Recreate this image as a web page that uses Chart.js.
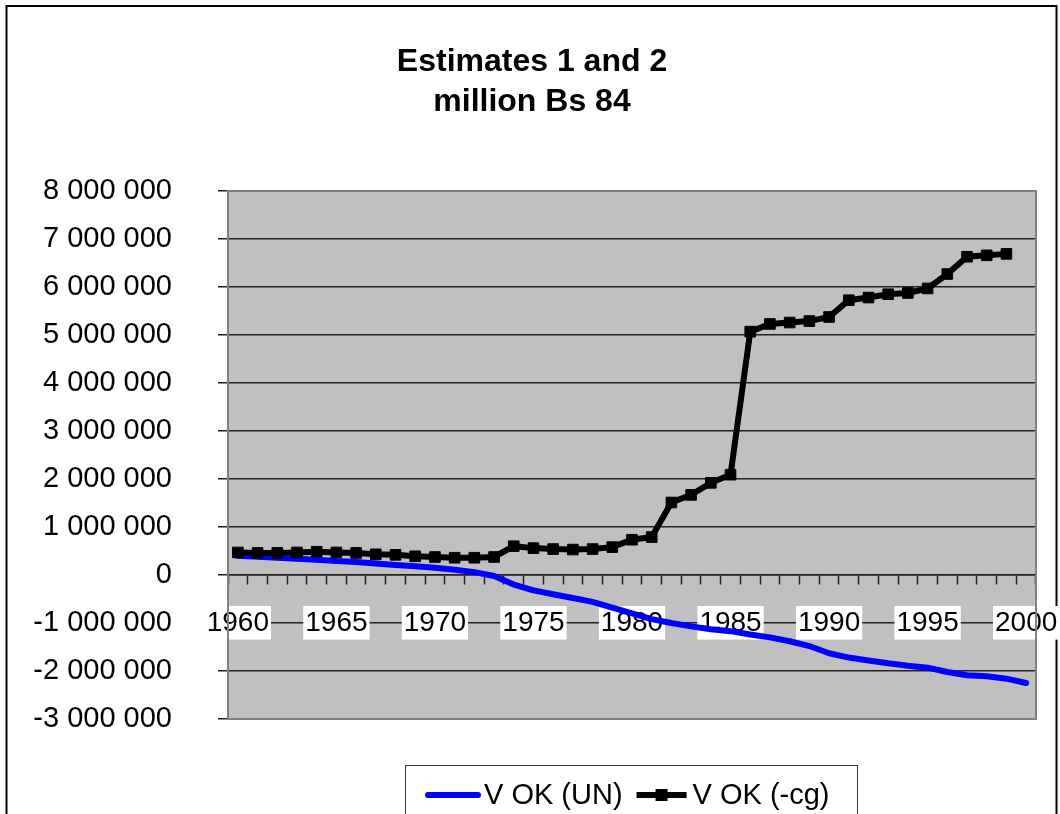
<!DOCTYPE html>
<html>
<head>
<meta charset="utf-8">
<script src="https://cdn.jsdelivr.net/npm/chart.js@4/dist/chart.umd.min.js"></script>
<style>
  html, body { margin: 0; padding: 0; background: #fff; }
  #chart { display: block; }
</style>
</head>
<body>
<canvas id="chart" width="1060" height="814"></canvas>
<script>
// years on the category axis
const years = [];
for (let y = 1960; y <= 2000; y++) years.push(String(y));

// only these years get a label
const yearLabels = ['1960', '1965', '1970', '1975', '1980', '1985', '1990', '1995', '2000'];

// V OK (UN) - blue
const vOkUN = [
  400000, 380000, 360000, 340000, 320000, 290000, 270000, 240000, 210000, 180000,
  150000, 110000, 60000, -20000, -200000, -320000, -400000, -480000, -560000, -680000,
  -800000, -920000, -1000000, -1070000, -1130000, -1170000, -1240000, -1300000, -1380000, -1480000,
  -1630000, -1720000, -1780000, -1840000, -1890000, -1930000, -2020000, -2090000, -2110000, -2160000,
  -2250000
];

// V OK (-cg) - black with square markers
const vOkCG = [
  470000, 460000, 460000, 470000, 485000, 470000, 460000, 430000, 420000, 390000,
  375000, 360000, 360000, 375000, 600000, 560000, 540000, 530000, 540000, 580000,
  735000, 790000, 1510000, 1670000, 1920000, 2090000, 5070000, 5230000, 5260000, 5290000,
  5375000, 5725000, 5780000, 5850000, 5875000, 5970000, 6270000, 6630000, 6660000, 6690000,
  null
];

const yMin = -3000000;
const yMax = 8000000;
const yStep = 1000000;

const titleLines = ['Estimates 1 and 2', 'million Bs 84'];
const seriesNames = ['V OK (UN)', 'V OK (-cg)'];

const FONT = '"Liberation Sans", Arial, sans-serif';

function formatThousands(v) {
  const s = String(Math.abs(v)).replace(/\B(?=(\d{3})+(?!\d))/g, ' ');
  return v < 0 ? '-' + s : s;
}

// gray plot area, outer frame and plot border
const frame = {
  id: 'frame',
  beforeDraw(chart) {
    const { ctx, chartArea: a } = chart;
    ctx.save();
    ctx.fillStyle = '#fff';
    ctx.fillRect(0, 0, chart.width, chart.height);
    ctx.strokeStyle = '#000';
    ctx.lineWidth = 2;
    ctx.strokeRect(6.5, 6, 1050, 900);
    ctx.fillStyle = '#c0c0c0';
    ctx.fillRect(a.left, a.top, a.right - a.left, a.bottom - a.top);
    ctx.restore();
  },
  beforeDatasetsDraw(chart) {
    const { ctx, chartArea: a } = chart;
    ctx.save();
    ctx.strokeStyle = '#808080';
    ctx.lineWidth = 2;
    ctx.strokeRect(a.left, a.top, a.right - a.left, a.bottom - a.top);
    ctx.restore();
  }
};

// boxed legend under the plot
const boxLegend = {
  id: 'boxLegend',
  afterDraw(chart) {
    const ctx = chart.ctx;
    const cy = 795;
    ctx.save();
    ctx.strokeStyle = '#333';
    ctx.lineWidth = 1;
    ctx.strokeRect(405.5, 765.5, 452, 100);
    ctx.font = '29px ' + FONT;
    ctx.textBaseline = 'middle';
    ctx.fillStyle = '#000';
    let x = 428;
    chart.data.datasets.forEach(ds => {
      ctx.strokeStyle = ds.borderColor;
      ctx.lineWidth = 6;
      ctx.lineCap = ds.pointRadius ? 'butt' : 'round';
      ctx.beginPath();
      ctx.moveTo(x, cy);
      ctx.lineTo(x + 50, cy);
      ctx.stroke();
      if (ds.pointRadius) {
        ctx.fillStyle = ds.pointBackgroundColor;
        ctx.fillRect(x + 25 - 6, cy - 6, 12, 12);
      }
      ctx.fillStyle = '#000';
      ctx.fillText(ds.label, x + 56, cy + 1);
      x += 56 + ctx.measureText(ds.label).width + 14;
    });
    ctx.restore();
  }
};

new Chart(document.getElementById('chart'), {
  type: 'line',
  data: {
    labels: years,
    datasets: [{
      label: seriesNames[0],
      data: vOkUN,
      borderColor: '#0000ff',
      backgroundColor: '#0000ff',
      borderWidth: 6,
      borderJoinStyle: 'round',
      borderCapStyle: 'round',
      pointRadius: 0,
      order: 2
    }, {
      label: seriesNames[1],
      data: vOkCG,
      borderColor: '#000',
      backgroundColor: '#000',
      borderWidth: 6,
      pointStyle: 'rect',
      pointRadius: 7.5,
      pointBorderWidth: 1,
      pointBackgroundColor: '#000',
      pointBorderColor: '#000',
      order: 1
    }]
  },
  options: {
    responsive: false,
    devicePixelRatio: 1,
    animation: false,
    layout: { padding: { left: 28, right: 24, top: 0, bottom: 95 } },
    plugins: {
      legend: { display: false },
      tooltip: { enabled: false },
      title: {
        display: true,
        text: titleLines,
        color: '#000',
        font: { family: FONT, size: 32, weight: 'bold', lineHeight: 1.25 },
        padding: { top: 42, bottom: 69 }
      }
    },
    scales: {
      x: {
        type: 'category',
        offset: true,
        position: { y: 0 },
        afterFit: scale => { scale.paddingLeft = 0; scale.paddingRight = 0; },
        grid: {
          offset: true,
          drawOnChartArea: false,
          drawTicks: true,
          tickLength: 9,
          tickWidth: 1.5,
          tickColor: '#222'
        },
        border: { display: true, color: '#222', width: 1.5 },
        ticks: {
          autoSkip: false,
          maxRotation: 0,
          padding: 22,
          color: '#000',
          font: { family: FONT, size: 28 },
          showLabelBackdrop: true,
          backdropColor: c => (c.tick && c.tick.label) ? '#fff' : 'rgba(0,0,0,0)',
          backdropPadding: { top: 0, bottom: 0, left: 2, right: 2 },
          callback: function (value) {
            const lab = this.getLabelForValue(value);
            return yearLabels.includes(lab) ? lab : '';
          }
        }
      },
      y: {
        min: yMin,
        max: yMax,
        afterFit: scale => { scale.width = 200; },
        grid: {
          color: '#222',
          lineWidth: 1.5,
          drawTicks: true,
          tickLength: 10,
          tickColor: '#222'
        },
        border: { display: true, color: '#555', width: 2 },
        ticks: {
          stepSize: yStep,
          padding: 46,
          color: '#000',
          font: { family: FONT, size: 29 },
          callback: v => formatThousands(v)
        }
      }
    }
  },
  plugins: [frame, boxLegend]
});
</script>
</body>
</html>
